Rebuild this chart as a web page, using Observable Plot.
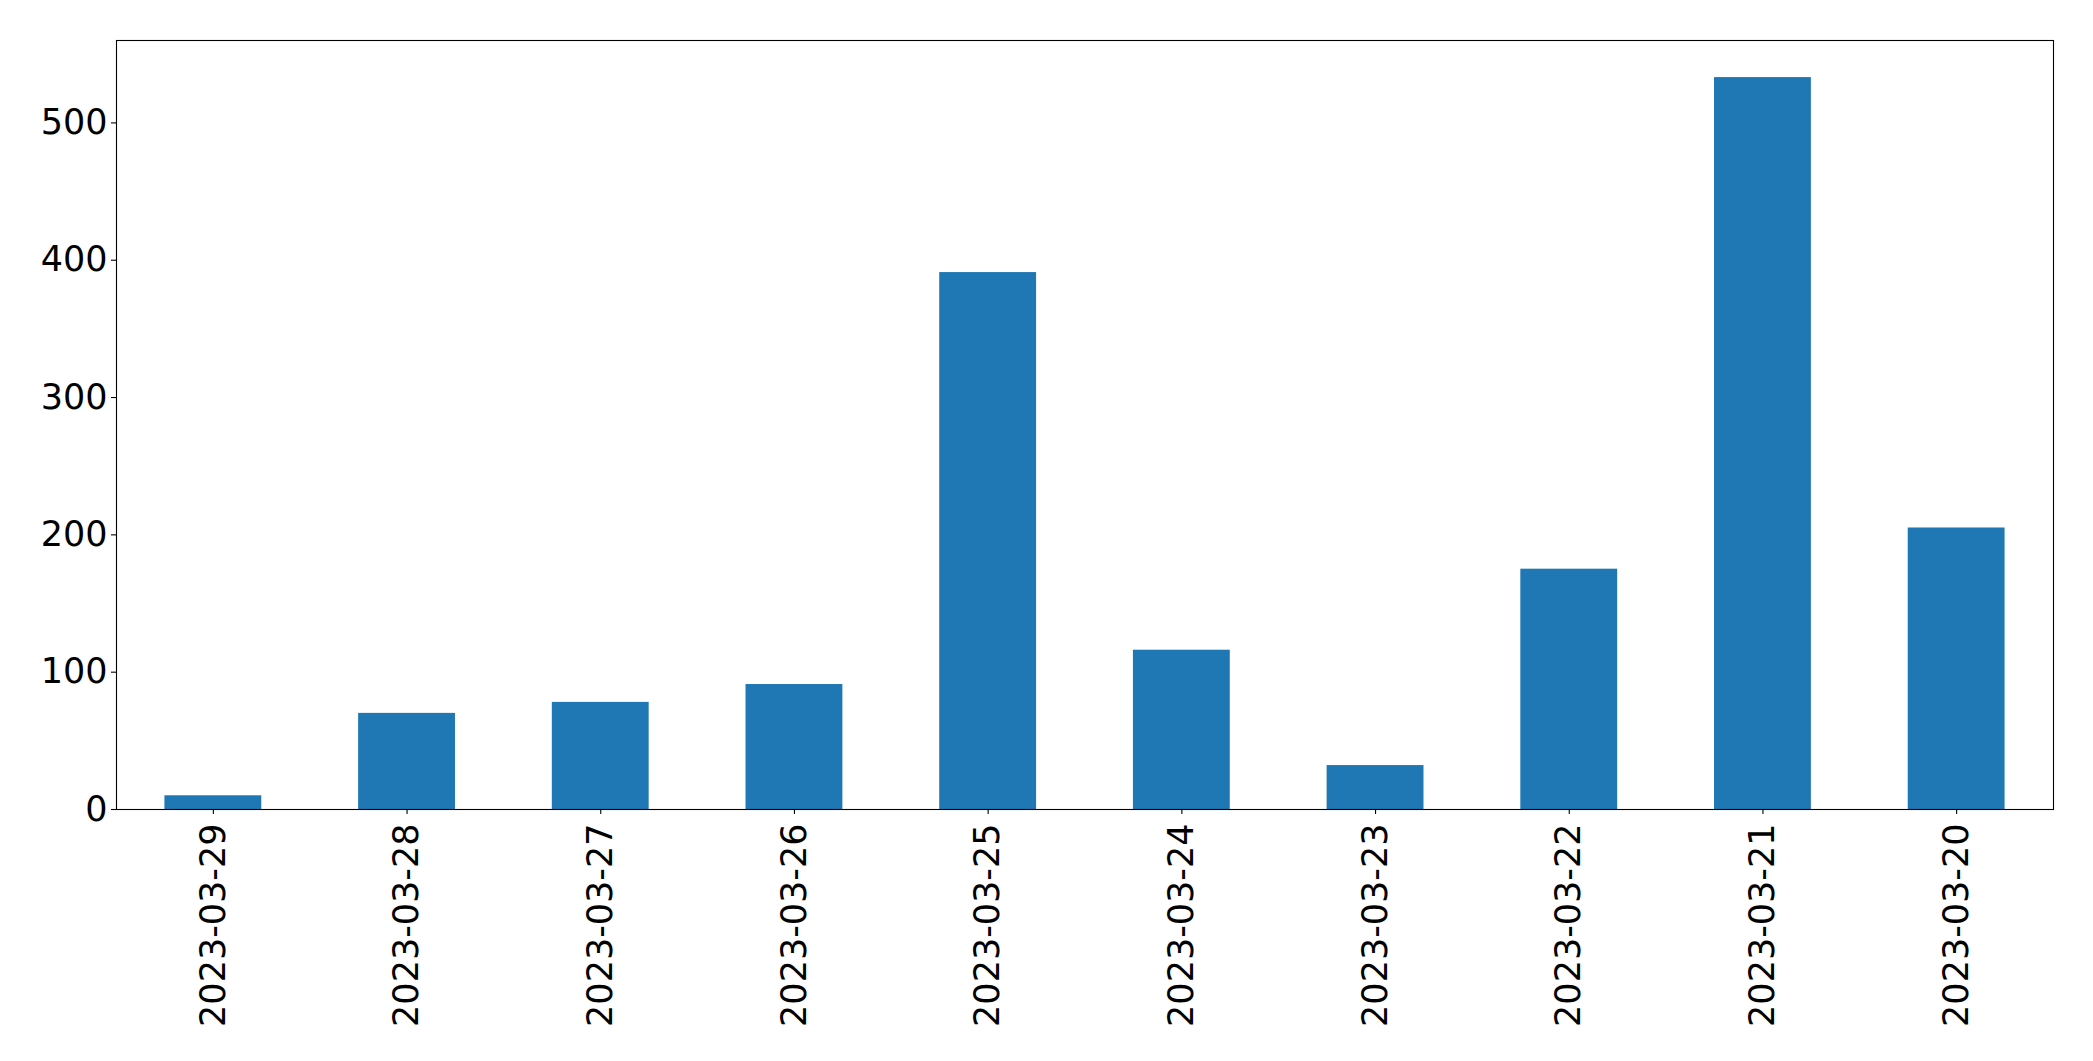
<!DOCTYPE html>
<html>
<head>
<meta charset="utf-8">
<script src="https://cdn.jsdelivr.net/npm/d3@7"></script>
<script src="https://cdn.jsdelivr.net/npm/@observablehq/plot@0.6"></script>
<style>
  html, body { margin: 0; padding: 0; background: #fff; }
  #chart svg { display: block; }
</style>
</head>
<body>
<div id="chart"></div>
<script>
const dates = ["2023-03-29", "2023-03-28", "2023-03-27", "2023-03-26", "2023-03-25",
               "2023-03-24", "2023-03-23", "2023-03-22", "2023-03-21", "2023-03-20"];
const counts = [10, 70, 78, 91, 391, 116, 32, 175, 533, 205];
const yTicks = [0, 100, 200, 300, 400, 500];

const data = dates.map((d, i) => ({date: d, count: counts[i]}));

const chart = Plot.plot({
  width: 2093,
  height: 1061,
  marginLeft: 116,
  marginRight: 40,
  marginTop: 40,
  marginBottom: 252,
  style: {fontFamily: "DejaVu Sans", fontSize: "35px", color: "#000", background: "#fff"},
  x: {type: "band", domain: dates, paddingInner: 0.5, paddingOuter: 0.25, align: 0.5, round: false},
  y: {domain: [0, 560], range: [809, 40]},
  marks: [
    Plot.barY(data, {x: "date", y: "count", fill: "#1f77b4"}),
    Plot.axisY({ticks: yTicks, tickSize: 5, tickPadding: 4, label: null, stroke: "#000", strokeWidth: 1.1}),
    Plot.axisX({tickSize: 5, tickPadding: 9, tickRotate: -90, label: null, stroke: "#000", strokeWidth: 1.1}),
    Plot.frame({stroke: "#000", strokeWidth: 1.1})
  ]
});
document.getElementById("chart").appendChild(chart);
</script>
</body>
</html>
